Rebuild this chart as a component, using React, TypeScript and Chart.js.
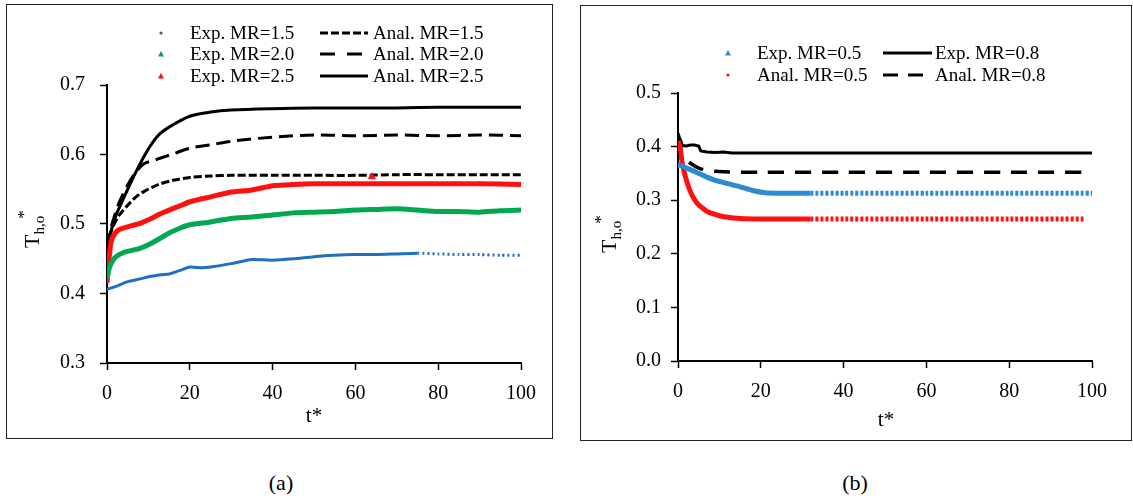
import React, { useEffect, useRef } from "react";
import { Chart, registerables } from "chart.js";

Chart.register(...registerables);

const FONT = "'Liberation Serif', 'Times New Roman', serif";

// ---------- Chart (a) data ----------
const tAnalA = [0, 1, 2, 3, 5, 7, 9, 11, 13, 16, 20, 25, 30, 40, 50, 60, 70, 80, 90, 100];
const analMR15 = [0.467, 0.49, 0.503, 0.513, 0.527, 0.539, 0.547, 0.553, 0.558, 0.563, 0.567, 0.569, 0.57, 0.57, 0.57, 0.57, 0.571, 0.571, 0.571, 0.571];
const analMR20 = [0.467, 0.495, 0.515, 0.532, 0.556, 0.575, 0.587, 0.591, 0.595, 0.601, 0.609, 0.614, 0.619, 0.625, 0.628, 0.627, 0.628, 0.627, 0.628, 0.627];
const analMR25 = [0.467, 0.49, 0.51, 0.524, 0.55, 0.575, 0.598, 0.617, 0.631, 0.643, 0.655, 0.661, 0.664, 0.666, 0.667, 0.667, 0.667, 0.668, 0.668, 0.668];

const tExp25 = [0, 0.5, 1, 2, 3, 5, 8, 10, 13, 15, 18, 20, 25, 30, 35, 40, 45, 50, 60, 70, 80, 90, 100];
const expMR25 = [0.415, 0.45, 0.475, 0.487, 0.492, 0.496, 0.501, 0.506, 0.515, 0.52, 0.527, 0.532, 0.539, 0.546, 0.549, 0.555, 0.557, 0.558, 0.558, 0.558, 0.558, 0.558, 0.557];
const tOutlier25 = [64];
const outlierMR25 = [0.568];

const tExp20 = [0, 0.5, 1, 2, 4, 6, 8, 10, 13, 15, 18, 20, 25, 30, 35, 40, 45, 50, 55, 60, 65, 70, 75, 80, 85, 90, 95, 100];
const expMR20 = [0.422, 0.435, 0.443, 0.452, 0.459, 0.462, 0.465, 0.47, 0.48, 0.487, 0.495, 0.499, 0.503, 0.508, 0.51, 0.513, 0.516, 0.517, 0.518, 0.52, 0.521, 0.522, 0.52, 0.518, 0.518, 0.517, 0.519, 0.52];

const tExp15 = [0, 2, 5, 8, 10, 13, 15, 18, 20, 23, 25, 30, 35, 40, 45, 50, 55, 60, 65, 70, 75, 80, 85, 90, 95, 100];
const expMR15 = [0.406, 0.41, 0.417, 0.421, 0.424, 0.427, 0.428, 0.434, 0.438, 0.437, 0.438, 0.443, 0.449, 0.448, 0.45, 0.453, 0.455, 0.456, 0.456, 0.457, 0.458, 0.457, 0.456, 0.456, 0.455, 0.455];

// ---------- Chart (b) data ----------
const tExp08 = [0, 0.3, 0.7, 1, 2, 3, 4, 5, 5.5, 7, 9, 11, 13, 20, 40, 60, 80, 100];
const expMR08 = [0.425, 0.418, 0.41, 0.402, 0.401, 0.403, 0.403, 0.401, 0.392, 0.39, 0.389, 0.39, 0.388, 0.388, 0.388, 0.388, 0.388, 0.388];

const tAnal08 = [0, 0.5, 1, 2, 3, 5, 7, 9, 11, 15, 20, 40, 60, 80, 100];
const analMR08 = [0.415, 0.395, 0.384, 0.376, 0.369, 0.36, 0.356, 0.354, 0.353, 0.352, 0.352, 0.352, 0.352, 0.352, 0.352];

const tExp05 = [0, 1, 2, 3, 5, 7, 9, 12, 15, 18, 21, 25, 32, 40, 60, 80, 100];
const expMR05 = [0.366, 0.364, 0.36, 0.357, 0.35, 0.343, 0.337, 0.331, 0.325, 0.318, 0.314, 0.313, 0.313, 0.313, 0.313, 0.313, 0.313];

const tAnal05 = [0, 0.5, 1, 2, 3, 4, 5, 6, 7, 8, 10, 12, 15, 20, 25, 32, 40, 60, 80, 98];
const analMR05 = [0.41, 0.4, 0.37, 0.338, 0.316, 0.301, 0.291, 0.285, 0.279, 0.276, 0.271, 0.268, 0.266, 0.265, 0.265, 0.265, 0.265, 0.265, 0.265, 0.265];

const xTicks = [0, 20, 40, 60, 80, 100];

const BLUE_A = "#1f6fc2";
const BLUE_B = "#2b8ad2";
const GREEN = "#00a850";
const RED = "#ff1010";

function pts(t: number[], v: number[]) {
  return t.map((x, i) => ({ x, y: v[i] }));
}

type LegendEntry = { label: string; color: string; marker?: "dot" | "triangle"; dash?: number[] };
type DecorCfg = {
  rows: number[];
  markerX: number;
  textX: number;
  lineX0: number;
  lineX1: number;
  text2X: number;
  col1: LegendEntry[];
  col2: LegendEntry[];
  xTitle: { x: number; y: number };
  yTitle: { x: number; y: number };
};

function makeDecor(cfg: DecorCfg) {
  return {
    id: "decor",
    afterDraw(chart: any) {
      const ctx: CanvasRenderingContext2D = chart.ctx;
      ctx.save();
      ctx.font = `19px ${FONT}`;
      ctx.textBaseline = "middle";
      ctx.textAlign = "left";
      cfg.col1.forEach((e, i) => {
        const y = cfg.rows[i];
        ctx.fillStyle = e.color;
        if (e.marker === "triangle") {
          ctx.beginPath();
          ctx.moveTo(cfg.markerX, y - 3);
          ctx.lineTo(cfg.markerX + 3, y + 2.5);
          ctx.lineTo(cfg.markerX - 3, y + 2.5);
          ctx.closePath();
          ctx.fill();
        } else {
          ctx.beginPath();
          ctx.arc(cfg.markerX, y, 1.6, 0, Math.PI * 2);
          ctx.fill();
        }
        ctx.fillStyle = "#000";
        ctx.fillText(e.label, cfg.textX, y + 1);
      });
      cfg.col2.forEach((e, i) => {
        const y = cfg.rows[i];
        ctx.strokeStyle = e.color;
        ctx.lineWidth = 3;
        ctx.setLineDash(e.dash || []);
        ctx.beginPath();
        ctx.moveTo(cfg.lineX0, y);
        ctx.lineTo(cfg.lineX1, y);
        ctx.stroke();
        ctx.setLineDash([]);
        ctx.fillStyle = "#000";
        ctx.fillText(e.label, cfg.text2X, y + 1);
      });
      // x title
      ctx.font = `21px ${FONT}`;
      ctx.textAlign = "center";
      ctx.fillText("t*", cfg.xTitle.x, cfg.xTitle.y);
      // y title (rotated, with subscript and superscript)
      ctx.translate(cfg.yTitle.x, cfg.yTitle.y);
      ctx.rotate(-Math.PI / 2);
      ctx.textAlign = "left";
      ctx.textBaseline = "alphabetic";
      ctx.font = `22px ${FONT}`;
      ctx.fillText("T", 0, 0);
      const w = ctx.measureText("T").width;
      ctx.font = `15px ${FONT}`;
      ctx.fillText("h,o", w, 5);
      const w2 = ctx.measureText("h,o").width;
      ctx.font = `17px ${FONT}`;
      ctx.fillText("*", w + w2 - 3, -10);
      ctx.restore();
    },
  };
}

function scales(yMin: number, yMax: number, yWidth: number, xHeight: number, yPad: number) {
  return {
    x: {
      type: "linear",
      min: 0,
      max: 100,
      afterBuildTicks: (s: any) => {
        s.ticks = xTicks.map((v) => ({ value: v }));
      },
      ticks: { color: "#000", font: { family: FONT, size: 20 }, padding: 12, maxRotation: 0 },
      grid: { drawOnChartArea: false, drawTicks: true, tickLength: 7, tickColor: "#000", tickWidth: 1.5 },
      border: { color: "#000", width: 2 },
      afterFit: (s: any) => {
        s.height = xHeight;
      },
    },
    y: {
      type: "linear",
      min: yMin,
      max: yMax,
      ticks: {
        stepSize: 0.1,
        color: "#000",
        font: { family: FONT, size: 20 },
        padding: yPad,
        callback: (v: any) => Number(v).toFixed(1),
      },
      grid: { drawOnChartArea: false, drawTicks: true, tickLength: 7, tickColor: "#000", tickWidth: 1.5 },
      border: { color: "#000", width: 2 },
      afterFit: (s: any) => {
        s.width = yWidth;
      },
    },
  };
}

function ChartA() {
  const ref = useRef<HTMLCanvasElement>(null);
  useEffect(() => {
    if (!ref.current) return;
    const dotted = (from: number) => ({
      borderDash: (c: any) => (c.p0.parsed.x >= from ? [2, 3] : undefined),
    });
    const chart = new Chart(ref.current, {
      type: "line",
      data: {
        datasets: [
          { label: "Exp. MR=1.5", data: pts(tExp15, expMR15), borderColor: BLUE_A, borderWidth: 3, pointRadius: 0, tension: 0.2, segment: dotted(75) },
          { label: "Exp. MR=2.0", data: pts(tExp20, expMR20), borderColor: GREEN, borderWidth: 5, pointRadius: 0, tension: 0.2 },
          { label: "Exp. MR=2.5", data: pts(tExp25, expMR25), borderColor: RED, borderWidth: 5, pointRadius: 0, tension: 0.2 },
          { label: "Exp. MR=2.5 (outlier)", data: pts(tOutlier25, outlierMR25), showLine: false, pointStyle: "triangle", pointRadius: 4, backgroundColor: RED, borderColor: RED },
          { label: "Anal. MR=1.5", data: pts(tAnalA, analMR15), borderColor: "#000", borderWidth: 3, borderDash: [8, 3], pointRadius: 0, tension: 0.3 },
          { label: "Anal. MR=2.0", data: pts(tAnalA, analMR20), borderColor: "#000", borderWidth: 3, borderDash: [14, 7], pointRadius: 0, tension: 0.3 },
          { label: "Anal. MR=2.5", data: pts(tAnalA, analMR25), borderColor: "#000", borderWidth: 3, pointRadius: 0, tension: 0.3 },
        ],
      },
      options: {
        responsive: false,
        animation: false,
        layout: { padding: { left: 0, top: 81, right: 32, bottom: 0 } },
        plugins: { legend: { display: false }, tooltip: { enabled: false } },
        scales: scales(0.3, 0.7, 101, 76, 15) as any,
      },
      plugins: [
        makeDecor({
          rows: [29, 50, 72],
          markerX: 155,
          textX: 184,
          lineX0: 314,
          lineX1: 362,
          text2X: 367,
          col1: [
            { label: "Exp. MR=1.5", color: "#44556a", marker: "dot" },
            { label: "Exp. MR=2.0", color: GREEN, marker: "triangle" },
            { label: "Exp. MR=2.5", color: RED, marker: "triangle" },
          ],
          col2: [
            { label: "Anal. MR=1.5", color: "#000", dash: [8, 3] },
            { label: "Anal. MR=2.0", color: "#000", dash: [15, 12] },
            { label: "Anal. MR=2.5", color: "#000" },
          ],
          xTitle: { x: 308, y: 412 },
          yTitle: { x: 33, y: 244 },
        }),
      ],
    } as any);
    return () => chart.destroy();
  }, []);
  return <canvas ref={ref} width={547} height={435} style={{ position: "absolute", left: 6, top: 4 }} />;
}

function ChartB() {
  const ref = useRef<HTMLCanvasElement>(null);
  useEffect(() => {
    if (!ref.current) return;
    const dotted = (from: number) => ({
      borderDash: (c: any) => (c.p0.parsed.x >= from ? [3, 2] : undefined),
    });
    const chart = new Chart(ref.current, {
      type: "line",
      data: {
        datasets: [
          { label: "Exp. MR=0.5", data: pts(tExp05, expMR05), borderColor: BLUE_B, borderWidth: 5, pointRadius: 0, tension: 0.2, segment: dotted(32) },
          { label: "Anal. MR=0.5", data: pts(tAnal05, analMR05), borderColor: RED, borderWidth: 5, pointRadius: 0, tension: 0.3, segment: dotted(32) },
          { label: "Exp. MR=0.8", data: pts(tExp08, expMR08), borderColor: "#000", borderWidth: 3, pointRadius: 0, tension: 0 },
          { label: "Anal. MR=0.8", data: pts(tAnal08, analMR08), borderColor: "#000", borderWidth: 3.5, borderDash: [16, 11], pointRadius: 0, tension: 0.3 },
        ],
      },
      options: {
        responsive: false,
        animation: false,
        layout: { padding: { left: 0, top: 88, right: 40, bottom: 0 } },
        plugins: { legend: { display: false }, tooltip: { enabled: false } },
        scales: scales(0, 0.5, 98, 80, 10) as any,
      },
      plugins: [
        makeDecor({
          rows: [48, 70],
          markerX: 148,
          textX: 177,
          lineX0: 303,
          lineX1: 352,
          text2X: 355,
          col1: [
            { label: "Exp. MR=0.5", color: BLUE_B, marker: "triangle" },
            { label: "Anal. MR=0.5", color: RED, marker: "dot" },
          ],
          col2: [
            { label: "Exp. MR=0.8", color: "#000" },
            { label: "Anal. MR=0.8", color: "#000", dash: [15, 10] },
          ],
          xTitle: { x: 306, y: 415 },
          yTitle: { x: 36, y: 248 },
        }),
      ],
    } as any);
    return () => chart.destroy();
  }, []);
  return <canvas ref={ref} width={552} height={436} style={{ position: "absolute", left: 580, top: 5 }} />;
}

export default function App() {
  const box: React.CSSProperties = { position: "absolute", border: "1px solid #222", boxSizing: "border-box", pointerEvents: "none" };
  const cap: React.CSSProperties = { position: "absolute", fontFamily: FONT, fontSize: 22, color: "#000", transform: "translate(-50%, -50%)", lineHeight: 1 };
  return (
    <div style={{ position: "fixed", left: 0, top: 0, width: 1133, height: 499, background: "#fff", overflow: "hidden" }}>
      <ChartA />
      <ChartB />
      <div style={{ ...box, left: 6, top: 4, width: 547, height: 435 }} />
      <div style={{ ...box, left: 580, top: 5, width: 552, height: 436 }} />
      <div style={{ ...cap, left: 281, top: 483 }}>(a)</div>
      <div style={{ ...cap, left: 855, top: 483 }}>(b)</div>
    </div>
  );
}
